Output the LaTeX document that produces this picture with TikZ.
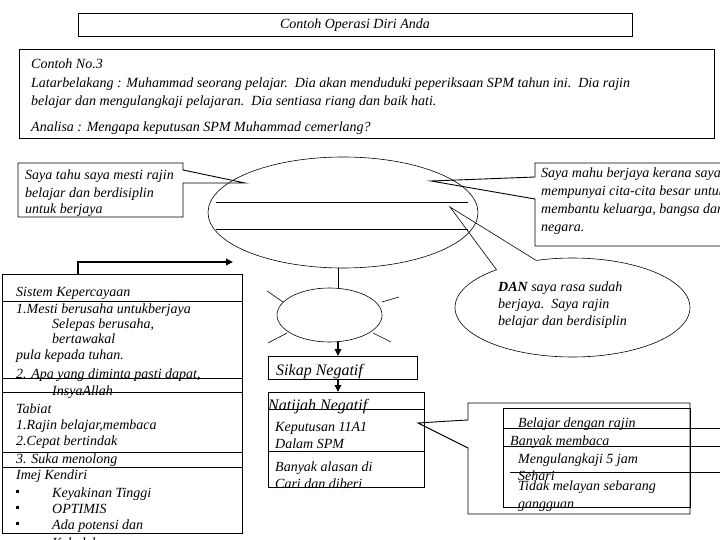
\documentclass[tikz,border=0pt]{standalone}
\usepackage{fontspec}
\setmainfont{Liberation Serif}
\usetikzlibrary{shapes.geometric,arrows.meta}
\newcommand\myfont{\fontsize{14}{16}\selectfont\itshape}
\newcommand\mybigfont{\fontsize{16}{18}\selectfont\itshape}
\begin{document}
\begin{tikzpicture}[x=1pt,y=-1pt,
  tx/.style={anchor=base west,inner sep=0pt,font=\myfont},
  txb/.style={anchor=base west,inner sep=0pt,font=\mybigfont},
  ln/.style={line width=0.9pt},
  thn/.style={line width=0.6pt},
  rbox/.style={draw,line width=0.9pt,inner sep=0pt,anchor=north west},
  arr/.style={line width=1.7pt,-{Triangle[length=7pt,width=6.5pt]}},
  bul/.style={anchor=base west,inner sep=0pt}]
\useasboundingbox[fill=white] (0,0) rectangle (720,540);

% title
\node[rbox,minimum width=554pt,minimum height=23pt] (title) at (78,13) {};
\node[anchor=base,inner sep=0pt,font=\myfont] (titletxt) at (355,29) {Contoh Operasi Diri Anda};

% intro box
\node[rbox,minimum width=695pt,minimum height=89pt] (intro) at (19,49) {};
\node[tx] (i1) at (31,69) {Contoh No.3};
\node[tx] (i2) at (31,88) {Latarbelakang : Muhammad seorang pelajar.\ \ Dia akan menduduki peperiksaan SPM tahun ini.\ \ Dia rajin};
\node[tx] (i3) at (31,106) {belajar dan mengulangkaji pelajaran.\ \ Dia sentiasa riang dan baik hati.};
\node[tx] (i4) at (31,132) {Analisa : Mengapa keputusan SPM Muhammad cemerlang?};

% DAN bubble
\coordinate (dantip) at (450,207);
\draw[thn,fill=white] plot[domain=130.3:468,samples=120] ({572.5+117.5*cos(\x)},{307.5-49.5*sin(\x)}) -- (dantip) -- cycle;
\node[tx] (d1) at (498,291) {\textbf{DAN} saya rasa sudah};
\node[tx] (d2) at (498,308) {berjaya.\ \ Saya rajin};
\node[tx] (d3) at (498,325) {belajar dan berdisiplin};

% left callout
\coordinate (ltip) at (245,183);
\draw[ln,fill=white] (18,163) -- (183,163) -- (183,170) -- (ltip) -- (183,183) -- (183,217) -- (18,217) -- cycle;
\node[tx] (l1) at (25,180) {Saya tahu saya mesti rajin};
\node[tx] (l2) at (25,197) {belajar dan berdisiplin};
\node[tx] (l3) at (25,214) {untuk berjaya};

% right callout
\coordinate (rtip) at (431,181);
\draw[ln,fill=white] (730,163) -- (535,163) -- (535,177) -- (rtip) -- (535,199) -- (535,246) -- (730,246);
\node[tx] (r1) at (541,178) {Saya mahu berjaya kerana saya};
\node[tx] (r2) at (541,196) {mempunyai cita-cita besar untuk};
\node[tx] (r3) at (541,214) {membantu keluarga, bangsa dan};
\node[tx] (r4) at (541,232) {negara.};

% big ellipse
\node[draw,thn,ellipse,inner sep=0pt,minimum width=270pt,minimum height=111pt] (big) at (343,212.5) {};
\draw[ln] (216,202) -- (468,202);
\draw[ln] (216,229) -- (468,229);

% small ellipse with rays
\node[draw,thn,ellipse,inner sep=0pt,minimum width=105pt,minimum height=54pt] (small) at (329.5,315) {};
\draw[thn] (267,291) -- (283,302);
\draw[thn] (268,343) -- (287,333);
\draw[thn] (382,302) -- (399,297);
\draw[thn] (373,333) -- (391,342);
\coordinate (ax) at (338,0);
\draw[thn] (big.south -| ax) -- (small.north -| ax);

% Sikap Negatif
\node[rbox,minimum width=149pt,minimum height=23pt] (sikap) at (268,356) {};
\node[txb] (sikaptxt) at (276,375) {Sikap Negatif};
\draw[arr] (small.south -| ax) -- (sikap.north -| ax);

% Natijah Negatif
\node[rbox,minimum width=156pt,minimum height=95pt] (nat) at (268,392) {};
\draw[arr] (sikap.south -| ax) -- (nat.north -| ax);
\draw[ln] (268,409) -- (424,409);
\draw[ln] (268,451) -- (424,451);
\node[txb] (n1) at (268,410) {Natijah Negatif};
\node[tx] (n2) at (275,431) {Keputusan 11A1};
\node[tx] (n3) at (275,448) {Dalam SPM};
\node[tx] (n4) at (275,471) {Banyak alasan di};
\node[tx] (n5) at (275,488) {Cari dan diberi};

% left table
\node[rbox,minimum width=240pt,minimum height=259pt] (tbl) at (2,274) {};
\draw[ln] (2,301) -- (242,301);
\draw[ln] (2,378) -- (242,378);
\draw[ln] (2,392) -- (242,392);
\draw[ln] (2,452) -- (242,452);
\draw[ln] (2,467) -- (242,467);
\node[tx] (t1) at (16,296) {Sistem Kepercayaan};
\node[tx] (t2) at (16,313) {1.Mesti berusaha untukberjaya};
\node[tx] (t3) at (52,328) {Selepas berusaha,};
\node[tx] (t4) at (52,343) {bertawakal};
\node[tx] (t5) at (16,359) {pula kepada tuhan.};
\node[tx] (t6) at (16,378) {2. Apa yang diminta pasti dapat,};
\node[tx] (t7) at (52,395) {InsyaAllah};
\node[tx] (t8) at (16,413) {Tabiat};
\node[tx] (t9) at (16,429) {1.Rajin belajar,membaca};
\node[tx] (t10) at (16,445) {2.Cepat bertindak};
\node[tx] (t11) at (16,463) {3. Suka menolong};
\node[tx] (t12) at (16,479) {Imej Kendiri};
\node[bul] (b1) at (16,493) {\rule{3pt}{3pt}};
\node[tx] (t13) at (52,497) {Keyakinan Tinggi};
\node[bul] (b2) at (16,509) {\rule{3pt}{3pt}};
\node[tx] (t14) at (52,513) {OPTIMIS};
\node[bul] (b3) at (16,525) {\rule{3pt}{3pt}};
\node[tx] (t15) at (52,529) {Ada potensi dan};
\node[tx] (t16) at (52,547) {Kebolehan};
\coordinate (ax2) at (78,0);
\coordinate (atip) at (233,262);
\draw[arr] (tbl.north -| ax2) |- (atip);

% bottom-right callout
\coordinate (btip) at (418,423);
\draw[ln] (468,420) -- (468,403) -- (690,403) -- (690,514) -- (468,514) -- (468,448) -- (btip) -- (450,421) -- cycle;
\node[rbox,minimum width=187pt,minimum height=99pt] (inner) at (503,408) {};
\draw[ln] (503,428) -- (725,428);
\draw[ln] (503,446) -- (725,446);
\draw[ln] (510,472) -- (725,472);
\node[tx] (g1) at (518,427) {Belajar dengan rajin};
\node[tx] (g2) at (510,445) {Banyak membaca};
\node[tx] (g3) at (518,463) {Mengulangkaji 5 jam};
\node[tx] (g4) at (518,480) {Sehari};
\node[tx] (g5) at (518,490) {Tidak melayan sebarang};
\node[tx] (g6) at (518,508) {gangguan};
\end{tikzpicture}
\end{document}
